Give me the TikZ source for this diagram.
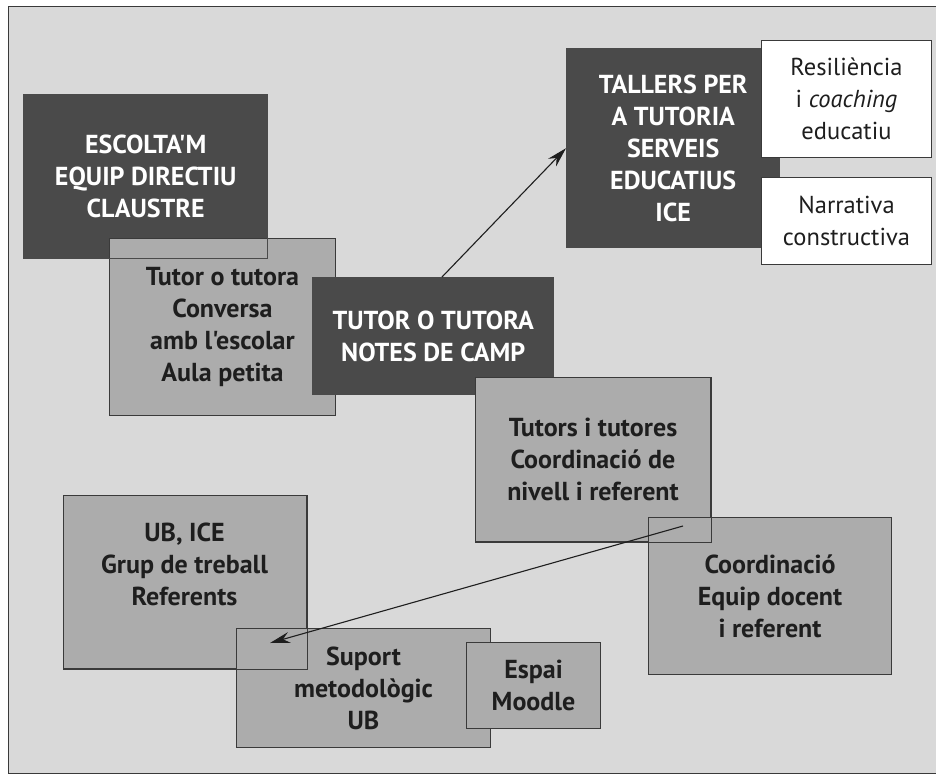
\documentclass[tikz,border=0pt]{standalone}
\usepackage{fontspec}
\setmainfont{PT Sans}[Ligatures=TeXOff]
\usetikzlibrary{arrows.meta}
\definecolor{bg}{HTML}{D9D9D9}
\definecolor{darkbox}{HTML}{4A4A4A}
\definecolor{lightbox}{HTML}{ACACAC}
\definecolor{edge}{HTML}{3A3A3A}
\definecolor{ink}{HTML}{1E1E1E}
\begin{document}
\begin{tikzpicture}[x=1pt,y=-1pt,
  base/.style={anchor=north west, inner sep=0pt, align=center},
  boldtxt/.style={font=\bfseries\fontsize{26}{32}\selectfont},
  darkb/.style={base, fill=darkbox, text=white, boldtxt},
  lightb/.style={base, fill=lightbox, draw=edge, line width=1pt, text=ink, boldtxt},
  whiteb/.style={base, fill=white, draw=edge, line width=1pt, text=ink, font=\fontsize{24.5}{32}\selectfont},
  outl/.style={draw=edge, line width=1pt},
  conn/.style={draw=ink, line width=1.1pt, -{Stealth[length=20pt,width=11pt]}}
]
\useasboundingbox (0,0) rectangle (936,775);
\fill[white] (0,0) rectangle (936,775);
\fill[bg] (8,7) rectangle (936,773);
\draw[edge, line width=1pt] (936,7) -- (8,7) -- (8,773) -- (936,773);

% top left group
\node[darkb, minimum width=243, minimum height=163] (esc) at (24,95) {ESCOLTA'M\\EQUIP DIRECTIU\\CLAUSTRE};
\node[lightb, minimum width=226, minimum height=177] (tutor) at (109,238) {Tutor o tutora\\Conversa\\amb l'escolar\\Aula petita};
\draw[draw=darkbox, line width=1.2pt] (esc.south west) rectangle (esc.north east);
\node[darkb, minimum width=242, minimum height=118] (notes) at (312,277) {TUTOR O TUTORA\\NOTES DE CAMP};

% top right group
\node[darkb, minimum width=214, minimum height=200] (tallers) at (566,48) {TALLERS PER\\A TUTORIA\\SERVEIS\\EDUCATIUS\\ICE};
\node[whiteb, minimum width=170, minimum height=117] (resil) at (761,40) {Resiliència\\i \textit{coaching}\\educatiu};
\node[whiteb, minimum width=170, minimum height=87] (narr) at (761,177) {Narrativa\\constructiva};

% middle right group
\node[lightb, minimum width=235, minimum height=164] (tutors) at (475,377) {Tutors i tutores\\Coordinació de\\nivell i referent};
\node[lightb, minimum width=243, minimum height=157] (coord) at (648,517) {Coordinació\\Equip docent\\i referent};
\draw[outl] (tutors.south west) rectangle (tutors.north east);

% bottom left group
\node[lightb, minimum width=243, minimum height=173] (ub) at (63,495) {};
\node[lightb, minimum width=254, minimum height=119] (suport) at (236,628) {Suport\\metodològic\\UB};
\draw[outl] (ub.south west) rectangle (ub.north east);
\node[lightb, minimum width=134, minimum height=86] (espai) at (466,642) {Espai\\Moodle};
\node[anchor=center, inner sep=0pt, align=center, text=ink, boldtxt] (ubtxt) at (184.5,564) {UB, ICE\\Grup de treball\\Referents};

% connectors
\coordinate (a1s) at (442,277);
\draw[conn] (a1s) -- (tallers.west);
\coordinate (a2s) at (683,526);
\coordinate (a2e) at (270,643);
\draw[conn] (a2s) -- (a2e);
\end{tikzpicture}
\end{document}
